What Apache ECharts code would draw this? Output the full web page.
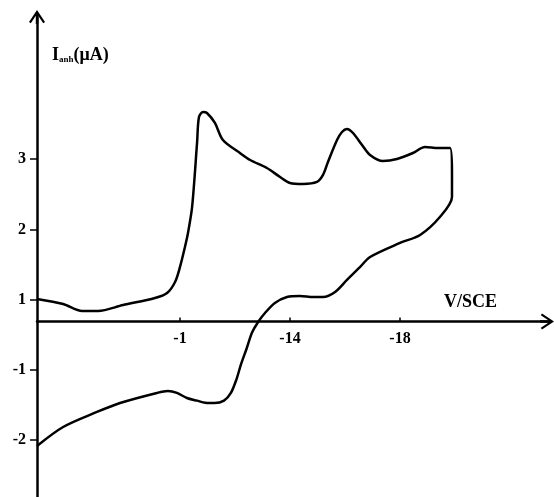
<!DOCTYPE html>
<html>
<head>
<meta charset="utf-8">
<script src="https://cdn.jsdelivr.net/npm/echarts@6/dist/echarts.min.js"></script>
<style>
html,body{margin:0;padding:0;background:#fff;}
#chart{width:554px;height:497px;}
</style>
</head>
<body>
<div id="chart"></div>
<script>
// Forward scan (potential in V, current in axis units)
const forwardX = [-0.480,-0.575,-0.644,-0.702,-0.793,-0.909,-0.953,-0.982,-1.000,-1.018,-1.029,-1.044,-1.062,-1.069,-1.084,-1.098,-1.127,-1.156,-1.218,-1.255,-1.316,-1.364,-1.400,-1.447,-1.498,-1.520,-1.538,-1.571,-1.589,-1.607,-1.629,-1.662,-1.691,-1.738,-1.789,-1.847,-1.891,-1.938,-1.982,-1.989,-1.989];
const forwardY = [1.009,0.938,0.838,0.838,0.923,1.023,1.094,1.251,1.465,1.750,1.949,2.320,3.232,3.602,3.673,3.659,3.517,3.274,3.089,2.989,2.875,2.747,2.662,2.647,2.676,2.776,2.961,3.274,3.388,3.431,3.374,3.203,3.061,2.975,3.004,3.089,3.175,3.160,3.160,2.804,2.462];
// Reverse scan
const reverseX = [-1.945,-1.873,-1.800,-1.691,-1.655,-1.607,-1.564,-1.520,-1.484,-1.436,-1.389,-1.345,-1.309,-1.284,-1.262,-1.242,-1.222,-1.205,-1.185,-1.160,-1.125,-1.092,-1.062,-1.025,-0.989,-0.956,-0.916,-0.782,-0.698,-0.575,-0.480];
const reverseY = [2.177,1.921,1.807,1.607,1.465,1.280,1.109,1.037,1.037,1.052,1.037,0.952,0.809,0.681,0.530,0.300,0.080,-0.140,-0.330,-0.440,-0.475,-0.470,-0.440,-0.402,-0.330,-0.302,-0.330,-0.473,-0.601,-0.815,-1.086];

const xTickValues = [-1.0, -1.4, -1.8];
const xTickLabels = ['-1', '-14', '-18'];
const yTickValues = [3, 2, 1, 0, -1];
const yTickLabels = ['3', '2', '1', '-1', '-2'];

const xMin = -2.3345, xMax = -0.48;
const yMin = -1.813, yMax = 5.027;
const xAxisOffset = -175.5; // horizontal axis raised from the bottom edge

const curve = [];
forwardX.forEach((x, i) => curve.push([x, forwardY[i]]));
reverseX.forEach((x, i) => curve.push([x, reverseY[i]]));

function lookup(values, labels, v) {
  for (let i = 0; i < values.length; i++) {
    if (Math.abs(values[i] - Number(v)) < 1e-6) return labels[i];
  }
  return '';
}

const arrowPath = 'path://M80,0 L160,120 L142,132 L92,57 L92,140 L68,140 L68,57 L18,132 L0,120 Z';
const serif = '"Liberation Serif", "DejaVu Serif", serif';

const chart = echarts.init(document.getElementById('chart'), null, {renderer: 'canvas'});
chart.setOption({
  animation: false,
  backgroundColor: '#fff',
  grid: {left: 37, right: 7, top: 17, bottom: 0, containLabel: false, outerBoundsMode: 'none'},
  xAxis: {
    type: 'value',
    inverse: true,
    min: xMin,
    max: xMax,
    position: 'bottom',
    offset: xAxisOffset,
    axisLine: {
      show: true, onZero: false,
      lineStyle: {color: '#000', width: 2.5},
      symbol: ['none', arrowPath], symbolSize: [16, 14]
    },
    axisTick: {show: true, inside: true, length: 4, lineStyle: {color: '#000', width: 1.5}, customValues: xTickValues},
    axisLabel: {
      show: true, margin: 9, customValues: xTickValues, hideOverlap: false,
      color: '#000', fontFamily: serif, fontWeight: 'bold', fontSize: 16,
      formatter: v => lookup(xTickValues, xTickLabels, v)
    },
    splitLine: {show: false}
  },
  yAxis: {
    type: 'value',
    min: yMin,
    max: yMax,
    axisLine: {
      show: true, onZero: false,
      lineStyle: {color: '#000', width: 2.5},
      symbol: ['none', arrowPath], symbolSize: [16, 14]
    },
    axisTick: {show: true, inside: false, length: 7, lineStyle: {color: '#000', width: 1.5}, customValues: yTickValues},
    axisLabel: {
      show: true, margin: 11, customValues: yTickValues,
      color: '#000', fontFamily: serif, fontWeight: 'bold', fontSize: 16,
      formatter: v => lookup(yTickValues, yTickLabels, v)
    },
    splitLine: {show: false}
  },
  series: [{
    type: 'line',
    data: curve,
    smooth: 0.3,
    showSymbol: false,
    symbol: 'none',
    lineStyle: {color: '#000', width: 2.5},
    z: 5
  }],
  graphic: [{
    type: 'text',
    left: 52, top: 46,
    style: {
      text: '{i|I}{s|anh}{i|(μA)}',
      rich: {
        i: {fontFamily: serif, fontWeight: 'bold', fontSize: 18, fill: '#000'},
        s: {fontFamily: serif, fontWeight: 'bold', fontSize: 9, fill: '#000', verticalAlign: 'bottom', padding: [9, 0, 0, 0]}
      }
    }
  }, {
    type: 'text',
    left: 444, top: 293,
    style: {text: 'V/SCE', fontFamily: serif, fontWeight: 'bold', fontSize: 18, fill: '#000'}
  }]
});
</script>
</body>
</html>
